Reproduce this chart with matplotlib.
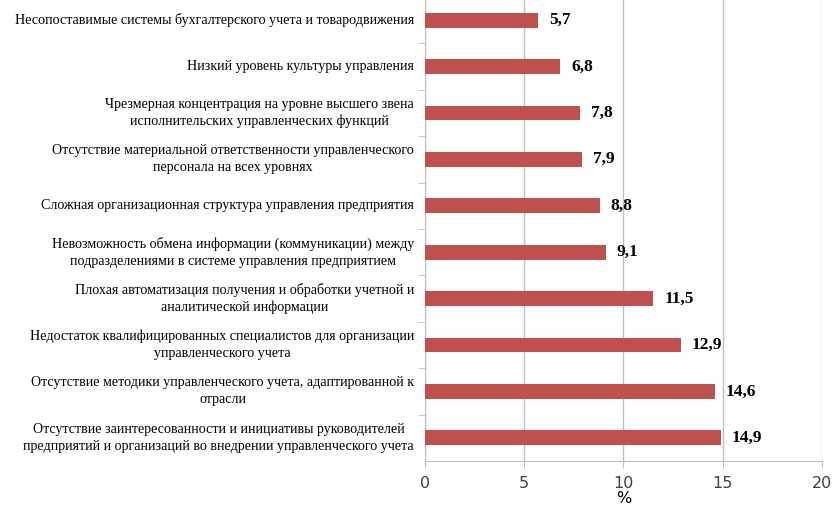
import matplotlib
matplotlib.use("Agg")
import matplotlib.pyplot as plt

# Categories, top to bottom as in the chart
categories = [
    "Несопоставимые системы бухгалтерского учета и товародвижения",
    "Низкий уровень культуры управления",
    "Чрезмерная концентрация на уровне высшего звена\nисполнительских управленческих функций",
    "Отсутствие материальной ответственности управленческого\nперсонала на всех уровнях",
    "Сложная организационная структура управления предприятия",
    "Невозможность обмена информации (коммуникации) между\nподразделениями в системе управления предприятием",
    "Плохая автоматизация получения и обработки учетной и\nаналитической информации",
    "Недостаток квалифицированных специалистов для организации\nуправленческого учета",
    "Отсутствие методики управленческого учета, адаптированной к\nотрасли",
    "Отсутствие заинтересованности и инициативы руководителей\nпредприятий и организаций во внедрении управленческого учета",
]
values = [5.7, 6.8, 7.8, 7.9, 8.8, 9.1, 11.5, 12.9, 14.6, 14.9]
x_ticks = [0, 5, 10, 15, 20]

bar_color = "#C0504D"
grid_color = "#BFBFBF"

fig = plt.figure(figsize=(8.34, 5.05), dpi=100)
ax = fig.add_axes([0.5096, 0.0871, 0.4760, 0.919])

pos = list(range(len(categories)))
ax.barh(pos, values, height=0.32, color=bar_color, zorder=3)

ax.set_xlim(0, 20)
ax.set_ylim(len(categories) - 0.5, -0.5)
ax.set_xticks(x_ticks)
ax.set_xticklabels([str(t) for t in x_ticks], fontsize=11.5, family="DejaVu Sans",
                   color="#404040")
ax.xaxis.grid(True, color=grid_color, linewidth=1, zorder=0)

# category labels on the left, ticks between categories
ax.set_yticks(pos)
ax.set_yticklabels([])
ax.tick_params(axis="y", length=0)
ax.set_yticks([p + 0.5 for p in pos[:-1]] + [-0.5], minor=True)
ax.tick_params(axis="y", which="minor", length=5, color=grid_color, direction="out")
ax.tick_params(axis="x", length=5, color=grid_color, direction="out", pad=6)

for p, lab in zip(pos, categories):
    ax.text(-0.55, p, lab, ha="right", va="center", multialignment="center",
            fontsize=10.1, family="Liberation Serif", color="black", linespacing=1.4)

for p, v in zip(pos, values):
    ax.text(v + 0.55, p, f"{v:.1f}".replace(".", ","), ha="left", va="center",
            fontsize=12.5, fontweight="bold", family="Liberation Serif")

for s in ["top", "right"]:
    ax.spines[s].set_visible(False)
ax.spines["left"].set_color(grid_color)
ax.spines["bottom"].set_color(grid_color)

ax.set_xlabel("%", fontsize=11.5, family="DejaVu Sans", labelpad=0)

fig.savefig("out.png", dpi=100)
